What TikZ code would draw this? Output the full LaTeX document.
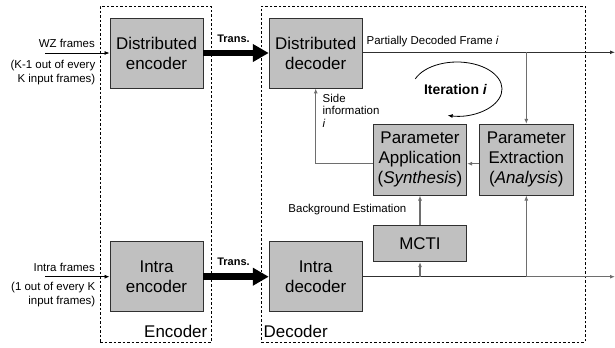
\documentclass[tikz,border=0pt]{standalone}
\usepackage{fontspec}
\setmainfont{Liberation Sans}
\usetikzlibrary{arrows.meta}
\definecolor{boxgray}{HTML}{C0C0C0}
\definecolor{wiregray}{HTML}{6E6E6E}
\definecolor{wiredark}{HTML}{303030}
\begin{document}
\begin{tikzpicture}[x=1bp,y=-1bp,
  block/.style={draw=wiredark, fill=boxgray, line width=0.9bp, inner sep=0pt,
    align=center, font=\fontsize{17}{20}\selectfont},
  groupbox/.style={draw=black, dashed, dash pattern=on 2.5bp off 2bp, line width=0.8bp, inner sep=0pt},
  small/.style={font=\fontsize{11.5}{14}\selectfont, inner sep=0pt},
  biglabel/.style={font=\fontsize{17}{20}\selectfont, inner sep=0pt},
  thinarrow/.style={draw=black, line width=0.8bp, -{Latex[length=5bp,width=4bp]}},
  grayarrow/.style={draw=wiregray, line width=1.1bp, -{Latex[length=5bp,width=4bp]}},
  darkwire/.style={draw=wiredark, line width=1.2bp},
  transarrow/.style={draw=black, line width=6.7bp, -{Triangle[length=16bp,width=17bp]}},
]
\useasboundingbox (0,0) rectangle (615,347);

% encoder and decoder groups
\node[groupbox, minimum width=111bp, minimum height=336bp] (encgroup) at (155.5,174) {};
\node[groupbox, minimum width=323.3bp, minimum height=336bp] (decgroup) at (423.35,174) {};
\node[biglabel, anchor=east] (enclabel) at (207.5,331.7) {Encoder};
\node[biglabel, anchor=west] (declabel) at (263.5,331.7) {Decoder};

% processing blocks
\node[block, minimum width=93bp, minimum height=70bp] (denc) at (156.5,53) {Distributed\\encoder};
\node[block, minimum width=93bp, minimum height=70bp] (ienc) at (156.5,276.7) {Intra\\encoder};
\node[block, minimum width=93bp, minimum height=70bp] (ddec) at (315.7,53) {Distributed\\decoder};
\node[block, minimum width=93bp, minimum height=70bp] (idec) at (315.7,276.7) {Intra\\decoder};
\node[block, minimum width=93.3bp, minimum height=70.7bp] (papp) at (420,159.7) {Parameter\\Application\\(\textit{Synthesis})};
\node[block, minimum width=94bp, minimum height=70.7bp] (pext) at (526.3,159.7) {Parameter\\Extraction\\(\textit{Analysis})};
\node[block, minimum width=93.3bp, minimum height=36.7bp] (mcti) at (420,243.3) {MCTI};

% inputs
\coordinate (wzin) at (45,53);
\coordinate (intrain) at (45,276.7);
\draw[thinarrow] (wzin) -- (denc.west);
\draw[thinarrow] (intrain) -- (ienc.west);
\node[small, anchor=east] (wzlabel) at (95,43) {WZ frames};
\node[small, anchor=east, align=right] (wznote) at (95.5,73) {(K-1 out of every\\K input frames)};
\node[small, anchor=east] (intralabel) at (95,267.5) {Intra frames};
\node[small, anchor=east, align=right] (intranote) at (95.5,295) {(1 out of every K\\input frames)};

% transmission
\draw[transarrow] (denc.east) -- (ddec.west);
\draw[transarrow] (ienc.east) -- (idec.west);
\node[small, font=\bfseries\fontsize{11}{13}\selectfont] (trans1) at (233.5,38.5) {Trans.};
\node[small, font=\bfseries\fontsize{11}{13}\selectfont] (trans2) at (233.5,262) {Trans.};

% decoder outputs
\coordinate (outtop) at (615,52.3);
\coordinate (splittop) at (526.3,52.3);
\coordinate (outbot) at (615,276.7);
\coordinate (splitmcti) at (420,276.7);
\coordinate (splitext) at (526.3,276.7);
\draw[darkwire, -{Latex[length=5bp,width=4bp]}] (ddec.east |- outtop) -- (outtop);
\node[small, anchor=south west] (pdlabel) at (366.5,47.5) {Partially Decoded Frame \textit{i}};
\draw[grayarrow] (splittop) -- (pext.north);
\draw[darkwire] (idec.east) -- (splitext);
\draw[grayarrow] (splitext) -- (outbot);
\draw[grayarrow] (splitmcti) -- (mcti.south);
\draw[grayarrow] (splitext) -- (pext.south);
\draw[grayarrow] (mcti.north) -- (papp.south);
\node[small, anchor=east] (bglabel) at (406.5,210) {Background Estimation};

% iteration loop
\draw[grayarrow] ([yshift=-4bp]pext.west) -- ([yshift=-4bp]papp.east);
\draw[grayarrow] ([yshift=-4bp]papp.west) -| (ddec.south);
\node[small, anchor=north west, align=left, font=\fontsize{11.5}{13}\selectfont] (silabel) at (322.5,93.5) {Side\\information\\\textit{i}};
\node[font=\bfseries\fontsize{14}{16}\selectfont, inner sep=0pt] (iterlabel) at (455.5,90) {Iteration \textit{i}};
\coordinate (loopcenter) at (457,89);
\draw[draw=black, line width=0.8bp, -{Latex[length=5bp,width=4bp]}]
  ([shift={(202:45 and 27)}]loopcenter) arc[start angle=202, end angle=462, x radius=45, y radius=27];
\end{tikzpicture}
\end{document}
